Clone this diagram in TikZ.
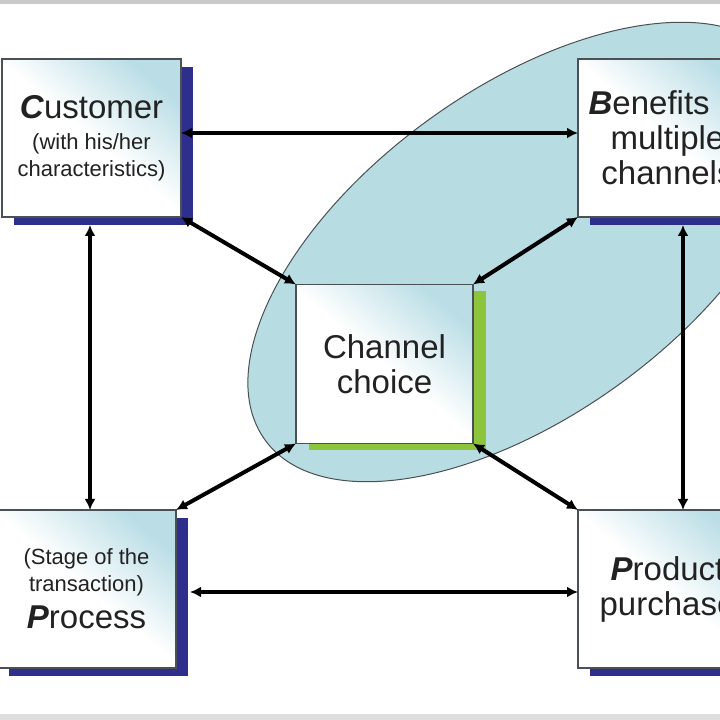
\documentclass[tikz,border=0pt]{standalone}
\usepackage{fontspec}
\setmainfont{Liberation Sans}
\usepackage{tikz}
\usetikzlibrary{arrows.meta,positioning,shadows}
\definecolor{ccbox}{HTML}{BBDEE6}
\definecolor{ccteal}{HTML}{B7DCE2}
\definecolor{ccnavy}{HTML}{2E2E8C}
\definecolor{cclime}{HTML}{8CC43C}
\definecolor{ccedge}{HTML}{4A5054}
\definecolor{cctext}{HTML}{222222}
\definecolor{ccbar}{HTML}{CACACA}
\newcommand{\bigtxt}{\fontsize{33}{35}\selectfont}
\newcommand{\smalltxt}{\fontsize{22}{27}\selectfont}
\newcommand{\initial}[1]{\textbf{\textit{#1}}}

\begin{document}
\begin{tikzpicture}[
  x=1pt,y=1pt,
  node distance=293pt and 397pt,
  box/.style={draw=ccedge,line width=1.5pt,bottom color=white,top color=ccbox,middle color=white,shading angle=-40,minimum width=179pt,minimum height=158pt,inner sep=0pt,outer sep=0pt,align=center,text=cctext,font=\smalltxt},
  navy/.style={box,drop shadow={shadow xshift=12pt,shadow yshift=-8pt,fill=ccnavy,opacity=1}},
  lime/.style={box,minimum width=177pt,minimum height=159pt,drop shadow={shadow xshift=13pt,shadow yshift=-7pt,fill=cclime,opacity=1}},
  arrow/.style={{Latex[length=11pt,width=11pt]}-{Latex[length=11pt,width=11pt]},line width=4pt,color=black}
]
  \useasboundingbox (0,0) rectangle (720,720);
  \clip (0,0) rectangle (720,720);
  \fill[white] (0,0) rectangle (720,720);
  \fill[ccbar] (0,716) rectangle (720,720);
  \fill[ccbar!60] (0,0) rectangle (720,6);

  % oval round the channel part
  \draw[fill=ccteal,draw=ccedge,line width=1pt,rotate around={36:(524,468)}] (524,468) ellipse (320 and 163);

  \node[navy] (customer) at (91.5,582) {{\bigtxt\initial{C}ustomer}\\[4pt](with his/her\\characteristics)};
  \node[navy,font=\bigtxt,right=of customer] (benefits) {\initial{B}enefits of\\multiple\\channels};
  \node[navy,below=of customer,xshift=-5pt] (process) {(Stage of the\\transaction)\\[9pt]{\bigtxt\initial{P}rocess}};
  \node[navy,font=\bigtxt,below=of benefits] (product) {\initial{P}roduct\\purchase};
  \node[lime,font=\bigtxt] (channel) at (384.5,356) {Channel\\choice};

  \draw[arrow] ([yshift=5pt]customer.east) -- ([yshift=5pt]benefits.west);
  \draw[arrow,shorten <=8pt] ([xshift=-1.5pt]customer.south) -- ([xshift=-1.5pt]customer.south |- process.north);
  \draw[arrow,shorten <=8pt] ([xshift=15.5pt]benefits.south) -- ([xshift=15.5pt]benefits.south |- product.north);
  \draw[arrow] (customer.south east) -- (channel.north west);
  \draw[arrow] (benefits.south west) -- (channel.north east);
  \draw[arrow] (channel.south west) -- (process.north east);
  \draw[arrow] (channel.south east) -- (product.north west);
  \draw[arrow,shorten <=14pt] ([yshift=-3pt]process.east) -- ([yshift=-3pt]product.west);
\end{tikzpicture}
\end{document}
